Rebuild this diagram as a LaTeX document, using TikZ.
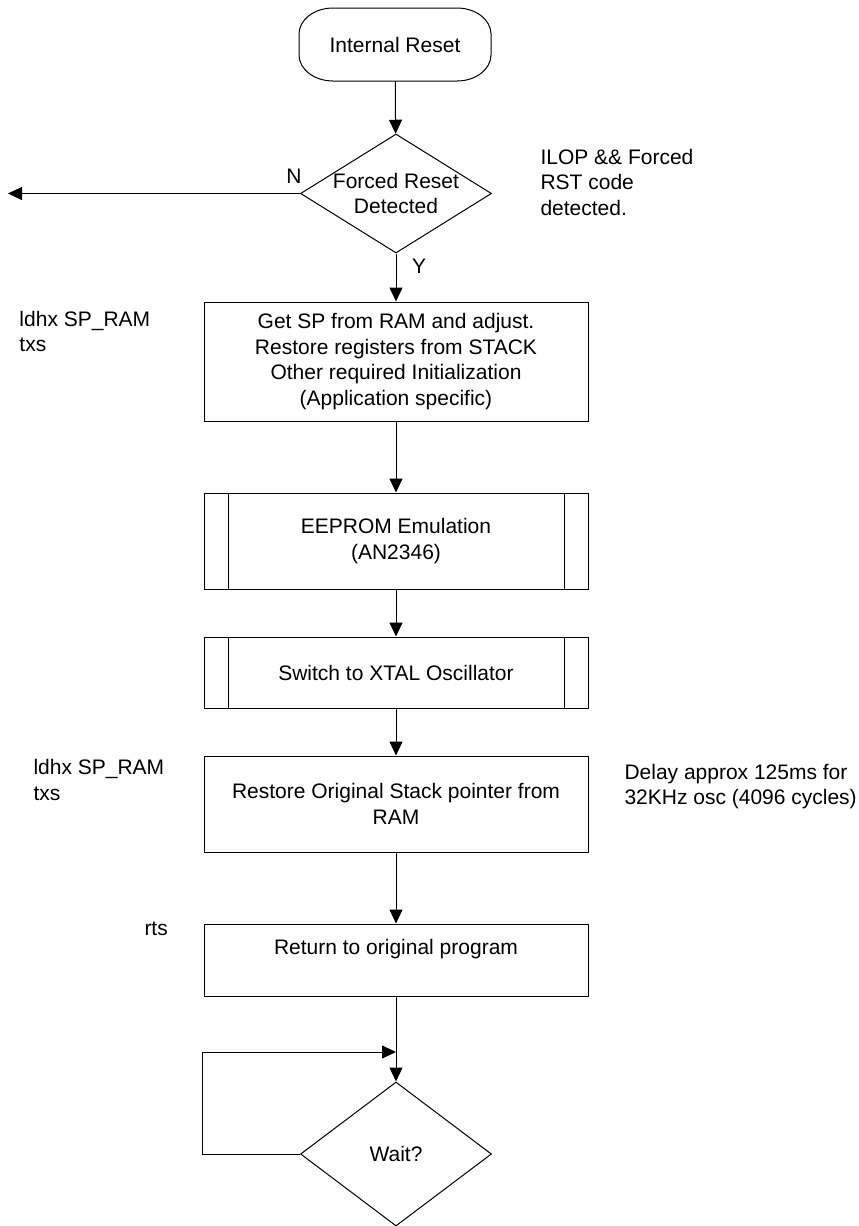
\documentclass[tikz,border=0pt]{standalone}
\usepackage{fontspec}
\setmainfont{Liberation Sans}
\usetikzlibrary{shapes.geometric,arrows.meta}
\begin{document}
\begin{tikzpicture}[
  x=1pt, y=-1pt,
  font=\fontsize{21}{25.5}\selectfont,
  line width=1pt,
  >={Triangle[length=14pt,width=13pt]},
  term/.style={rectangle, minimum width=192pt, minimum height=73pt, inner sep=0pt},
  decision/.style={draw, diamond, minimum width=191pt, inner sep=0pt},
  stepbox/.style={draw, rectangle, minimum width=384pt, inner sep=0pt, align=center},
  subproc/.style={stepbox},
  note/.style={anchor=west, align=left, inner sep=0pt},
  plain/.style={align=center, inner sep=0pt}
]
\useasboundingbox (0,0) rectangle (859,1226);

% start terminal: a box with elliptical corners
\node[term] (reset) at (395,44.5) {Internal Reset};
\draw (333,8) -- (457,8)
  .. controls (476,8) and (491,20) .. (491,34) -- (491,55)
  .. controls (491,69) and (476,81) .. (457,81) -- (333,81)
  .. controls (314,81) and (299,69) .. (299,55) -- (299,34)
  .. controls (299,20) and (314,8) .. (333,8) -- cycle;

% main flow
\node[decision, minimum height=119pt] (forced) at (396,193.5) {};
\node[plain] (forcedtxt) at (forced) {Forced Reset\\Detected};
\node[stepbox, minimum height=119pt] (getsp) at (396,361.5)
  {Get SP from RAM and adjust.\\Restore registers from STACK\\Other required Initialization\\(Application specific)};
\node[subproc, minimum height=96pt] (eeprom) at (396,541) {EEPROM Emulation\\(AN2346)};
\node[subproc, minimum height=71pt] (xtal) at (396,672.5) {Switch to XTAL Oscillator};
\node[stepbox, minimum height=96pt] (restore) at (396,804) {Restore Original Stack pointer from\\RAM};
\node[stepbox, minimum height=72pt] (ret) at (396,960) {Return to original program\\\mbox{}};
\node[decision, minimum height=144pt] (wait) at (396,1154) {};
\node[plain] (waittxt) at (wait) {Wait?};

% side bars of the predefined-process boxes
\foreach \n in {eeprom,xtal}{
  \draw ([xshift=24.5pt]\n.north west) -- ([xshift=24.5pt]\n.south west);
  \draw ([xshift=-24.5pt]\n.north east) -- ([xshift=-24.5pt]\n.south east);
}

% annotations
\node[note] (ilop) at (540,182) {ILOP \&\& Forced\\RST code\\detected.};
\node[note] (code1) at (19,331.5) {ldhx SP\_RAM\\txs};
\node[note] (code2) at (33,780) {ldhx SP\_RAM\\txs};
\node[note] (delay) at (624,786.5) {Delay approx 125ms for\\32KHz osc (4096 cycles)};
\node[note] (rts) at (144,929) {rts};
\node[plain] (nlab) at (294,176) {N};
\node[plain] (ylab) at (419,266) {Y};

% connectors
\coordinate (exitN) at (8,193.5);
\coordinate (loopcorner) at (202,1154);
\coordinate (loopend) at (396,1052);

\draw[->] (reset) -- (forced);
\draw[->] (forced.west) -- (exitN);
\draw[->] (forced) -- (getsp);
\draw[->] (getsp) -- (eeprom);
\draw[->] (eeprom) -- (xtal);
\draw[->] (xtal) -- (restore);
\draw[->] (restore) -- (ret);
\draw[->] (ret) -- (wait);
\draw[->] (wait.west) -- (loopcorner) |- (loopend);
\end{tikzpicture}
\end{document}
